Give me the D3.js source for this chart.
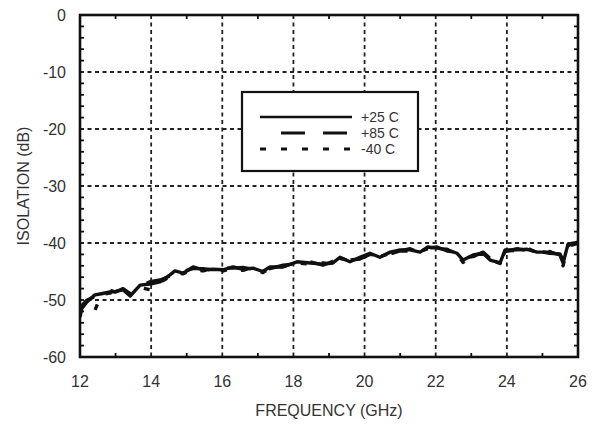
<!DOCTYPE html>
<html>
<head>
<meta charset="utf-8">
<script src="https://cdn.jsdelivr.net/npm/d3@7"></script>
<style>
  html, body { margin: 0; padding: 0; background: #fff; }
  svg { display: block; }
  text { font-family: "Liberation Sans", Arial, Helvetica, sans-serif; fill: #333; }
</style>
</head>
<body>
<svg id="chart" width="596" height="425"></svg>
<script>
// ---- data ----
const freq = [12.0, 12.05, 12.2, 12.42, 12.6, 12.84, 13.0, 13.21, 13.41, 13.69, 13.97, 14.25, 14.53, 14.67, 14.9, 15.18, 15.46, 15.74, 16.02, 16.3, 16.58, 16.86, 17.14, 17.34, 17.71, 18.1, 18.47, 18.83, 19.11, 19.31, 19.59, 19.87, 20.15, 20.43, 20.72, 21.0, 21.28, 21.56, 21.78, 22.04, 22.32, 22.6, 22.77, 23.05, 23.33, 23.53, 23.81, 23.95, 24.29, 24.57, 24.85, 25.21, 25.49, 25.58, 25.72, 25.97, 26.0];
const isoP25 = [-53.0, -51.5, -50.3, -49.1, -48.9, -48.6, -48.5, -48.2, -49.3, -47.4, -47.2, -46.8, -45.6, -44.9, -45.3, -44.2, -44.7, -44.6, -44.7, -44.2, -44.6, -44.4, -45.0, -44.2, -44.2, -43.3, -43.5, -43.7, -43.5, -42.5, -43.3, -42.5, -41.8, -42.5, -41.6, -41.2, -41.2, -41.6, -40.7, -40.9, -41.2, -41.8, -43.0, -42.1, -41.8, -43.0, -43.5, -41.2, -41.2, -41.1, -41.6, -41.6, -42.1, -43.5, -40.2, -39.9, -39.8];
const isoP85 = [-52.5, -51.0, -50.0, -49.4, -48.7, -48.3, -48.6, -48.0, -48.9, -47.6, -46.8, -46.5, -45.8, -45.1, -45.0, -44.5, -44.5, -44.8, -44.4, -44.4, -44.3, -44.6, -44.7, -44.5, -43.9, -43.6, -43.3, -43.9, -43.2, -42.8, -43.0, -42.8, -42.0, -42.2, -41.9, -41.4, -41.0, -41.8, -40.9, -40.7, -41.4, -41.6, -42.6, -42.4, -41.6, -42.7, -43.2, -41.5, -41.0, -41.3, -41.4, -41.8, -41.9, -43.0, -40.6, -40.1, -40.0];
const isoM40 = [-51.8, -51.2, -50.6, -51.8, -49.0, -48.8, -48.3, -48.4, -49.0, -47.8, -48.2, -46.9, -45.9, -45.3, -45.4, -44.6, -44.9, -44.5, -44.9, -44.4, -44.8, -44.3, -45.2, -44.4, -44.1, -43.5, -43.7, -43.5, -43.7, -42.7, -43.1, -42.6, -42.1, -42.4, -41.8, -41.4, -41.4, -41.5, -41.0, -41.1, -41.1, -42.0, -43.4, -42.0, -42.0, -42.9, -43.6, -41.4, -41.3, -40.9, -41.7, -41.5, -42.3, -44.0, -40.4, -40.0, -40.0];

const seriesNames = ["+25 C", "+85 C", "-40 C"];
const xTicks = [12, 14, 16, 18, 20, 22, 24, 26];
const xMinorTicks = [13, 15, 17, 19, 21, 23, 25];
const yTicks = [0, -10, -20, -30, -40, -50, -60];
const yMinorTicks = [-2, -4, -6, -8, -12, -14, -16, -18, -22, -24, -26, -28, -32, -34, -36, -38, -42, -44, -46, -48, -52, -54, -56, -58];
const xTitle = "FREQUENCY (GHz)";
const yTitle = "ISOLATION (dB)";

// ---- layout ----
const svg = d3.select("#chart");
const L = 80, T = 15, W = 498, H = 342;
const x = d3.scaleLinear().domain([12, 26]).range([L, L + W]);
const y = d3.scaleLinear().domain([-60, 0]).range([T + H, T]);

const styles = [
  { dash: null, width: 3.4 },
  { dash: "24,18", width: 3.4 },
  { dash: "6,15", width: 3.4 }
];
const seriesVals = [isoP25, isoP85, isoM40];

// grid
const grid = svg.append("g").attr("stroke", "#222").attr("stroke-width", 1.8).attr("stroke-dasharray", "4,3.5");
xTicks.slice(1, -1).forEach(t => {
  grid.append("line").attr("x1", x(t)).attr("x2", x(t)).attr("y1", T).attr("y2", T + H);
});
yTicks.slice(1, -1).forEach(t => {
  grid.append("line").attr("x1", L).attr("x2", L + W).attr("y1", y(t)).attr("y2", y(t));
});

// minor ticks (inside)
const tk = svg.append("g").attr("stroke", "#111").attr("stroke-width", 1.8);
yMinorTicks.forEach(t => {
  tk.append("line").attr("x1", L).attr("x2", L + 4).attr("y1", y(t)).attr("y2", y(t));
  tk.append("line").attr("x1", L + W - 4).attr("x2", L + W).attr("y1", y(t)).attr("y2", y(t));
});
xMinorTicks.forEach(t => {
  tk.append("line").attr("x1", x(t)).attr("x2", x(t)).attr("y1", T + H).attr("y2", T + H - 4);
  tk.append("line").attr("x1", x(t)).attr("x2", x(t)).attr("y1", T).attr("y2", T + 4);
});

// lines
svg.append("clipPath").attr("id", "clip").append("rect").attr("x", L).attr("y", T).attr("width", W).attr("height", H);
const lineGen = d3.line().x(d => x(d[0])).y(d => y(d[1]));
seriesVals.forEach((vals, i) => {
  const pts = freq.map((f, j) => [f, vals[j]]);
  svg.append("path")
    .attr("d", lineGen(pts))
    .attr("fill", "none")
    .attr("stroke", "#111")
    .attr("stroke-width", styles[i].width)
    .attr("stroke-linejoin", "round")
    .attr("stroke-dasharray", styles[i].dash)
    .attr("clip-path", "url(#clip)");
});

// legend
const lg = svg.append("g");
lg.append("rect").attr("x", 242).attr("y", 92).attr("width", 176).attr("height", 79)
  .attr("fill", "#fff").attr("stroke", "#111").attr("stroke-width", 2.2);
const lgY = [117, 133, 149];
const lgW = [2.6, 3.2, 3];
seriesNames.forEach((n, i) => {
  lg.append("line").attr("x1", i === 1 ? 281 : 260).attr("x2", 352).attr("y1", lgY[i]).attr("y2", lgY[i])
    .attr("stroke", "#111").attr("stroke-width", lgW[i])
    .attr("stroke-dasharray", styles[i].dash);
  lg.append("text").attr("x", 361).attr("y", lgY[i]).attr("dy", "0.36em")
    .attr("font-size", 14).text(n);
});

// frame
svg.append("rect").attr("x", L).attr("y", T).attr("width", W).attr("height", H)
  .attr("fill", "none").attr("stroke", "#111").attr("stroke-width", 2.6);

// tick labels
xTicks.forEach(t => {
  svg.append("text").attr("x", x(t)).attr("y", T + H + 24).attr("dy", "0.36em")
    .attr("text-anchor", "middle").attr("font-size", 16).text(t);
});
yTicks.forEach(t => {
  svg.append("text").attr("x", 66).attr("y", y(t)).attr("dy", "0.36em")
    .attr("text-anchor", "end").attr("font-size", 16).text(t);
});

// titles
svg.append("text").attr("x", x(19)).attr("y", 410).attr("dy", "0.36em")
  .attr("text-anchor", "middle").attr("font-size", 16).text(xTitle);
svg.append("text").attr("transform", `translate(23, ${(T + T + H) / 2}) rotate(-90)`)
  .attr("dy", "0.36em").attr("text-anchor", "middle").attr("font-size", 16).text(yTitle);
</script>
</body>
</html>
